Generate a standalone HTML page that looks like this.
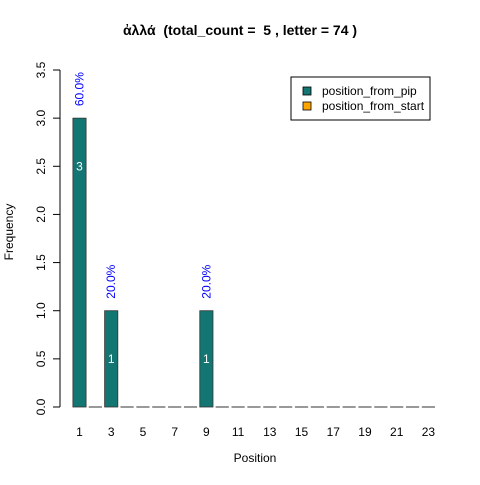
<!DOCTYPE html>
<html><head><meta charset="utf-8"><style>
body{margin:0;background:#fff}
text{font-family:"Liberation Sans",Arial,sans-serif}
</style></head><body>
<svg id="c" width="480" height="480" xmlns="http://www.w3.org/2000/svg">
<text x="240" y="35" text-anchor="middle" font-size="14" font-weight="bold" style="white-space:pre" xml:space="preserve">ἀλλά  (total_count =  5 , letter = 74 )</text>
<text x="255" y="462" text-anchor="middle" font-size="12">Position</text>
<text transform="translate(13,232) rotate(-90)" text-anchor="middle" font-size="12">Frequency</text>
<g id="yaxis"></g>
<g id="bars"></g>
<g id="xaxis"></g>
<g>
<rect x="291" y="77" width="139" height="43" fill="#fff" stroke="#000" stroke-width="1"/>
<rect x="303" y="87" width="8" height="8" fill="#137672" stroke="#000" stroke-width="0.8"/>
<text x="322" y="95" font-size="12">position_from_pip</text>
<rect x="303" y="102" width="8" height="8" fill="#FFA500" stroke="#000" stroke-width="0.8"/>
<text x="322" y="110" font-size="12">position_from_start</text>
</g>
</svg>
<script>
const positions=[1,2,3,4,5,6,7,8,9,10,11,12,13,14,15,16,17,18,19,20,21,22,23];
const counts=[3,0,1,0,0,0,0,0,1,0,0,0,0,0,0,0,0,0,0,0,0,0,0];
const percents=["60.0%","","20.0%","","","","","","20.0%","","","","","","","","","","","","","",""];
const yTicks=["0.0","0.5","1.0","1.5","2.0","2.5","3.0","3.5"];
const xTickLabels=[1,3,5,7,9,11,13,15,17,19,21,23];
const NS="http://www.w3.org/2000/svg";
const y0=407,yTop=70,yMax=3.5;
function ys(v){return y0-(y0-yTop)*v/yMax;}
const pitch=15.86,bw=13.2,cx0=79.5;
function xc(i){return cx0+i*pitch;}
function mk(t,a,p){const e=document.createElementNS(NS,t);for(const k in a)e.setAttribute(k,a[k]);p.appendChild(e);return e;}
const ya=document.getElementById('yaxis');
let l=mk('line',{x1:60,x2:60,y1:ys(0),y2:ys(3.5),stroke:'#000'},ya);


yTicks.forEach(t=>{const v=parseFloat(t);
 const tk=mk('line',{x1:53,x2:60,y1:ys(v),y2:ys(v),stroke:'#000'},ya);
 
 
 const tx=mk('text',{transform:`translate(45,${ys(v)}) rotate(-90)`,'text-anchor':'middle','font-size':12},ya);
 tx.textContent=t;
 
 
});
const bg=document.getElementById('bars');
counts.forEach((c,i)=>{
 const x=xc(i)-bw/2;
 if(c>0){
  const r=mk('rect',{x:x,y:ys(c),width:bw,height:ys(0)-ys(c),fill:'#137672',stroke:'#333','stroke-width':0.8},bg);
  
  
  const v=mk('text',{x:xc(i),y:ys(c-0.5)+4,'text-anchor':'middle','font-size':12,fill:'#fff'},bg);
  v.textContent=c;
  
  
  const p=mk('text',{transform:`translate(${xc(i)+4},${ys(c)-12}) rotate(-90)`,'font-size':12,fill:'#0000ff'},bg);
  p.textContent=percents[i];
  
  
 } else {
  const z=mk('line',{x1:x,x2:x+bw,y1:ys(0),y2:ys(0),stroke:'#333','stroke-width':1},bg);
  
  
 }
});
const xa=document.getElementById('xaxis');
xTickLabels.forEach(p=>{const i=positions.indexOf(p);
 const t=mk('text',{x:xc(i),y:436,'text-anchor':'middle','font-size':12},xa);
 t.textContent=p;
 
 
});
</script>
</body></html>
